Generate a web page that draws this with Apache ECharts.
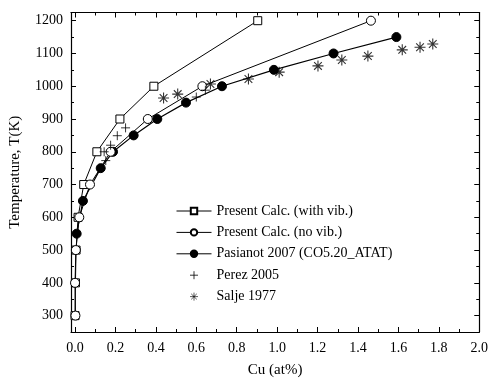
<!DOCTYPE html>
<html>
<head>
<meta charset="utf-8">
<script src="https://cdn.jsdelivr.net/npm/echarts@6/dist/echarts.min.js"></script>
<style>html,body{margin:0;padding:0;background:#fff;}#c{width:491px;height:383px;}</style>
</head>
<body>
<div id="c"></div>
<script>
// ---- data ----
const withVibCu = [0.0, 0.002, 0.005, 0.015, 0.043, 0.108, 0.222, 0.39, 0.904];
const withVibT  = [300, 400, 500, 600, 700, 800, 900, 1000, 1200];
const noVibCu   = [0.002, 0.0, 0.004, 0.021, 0.074, 0.176, 0.36, 0.63, 1.464];
const noVibT    = [300, 400, 500, 600, 700, 800, 900, 1000, 1200];
const pasCu     = [0.008, 0.039, 0.127, 0.188, 0.29, 0.407, 0.549, 0.727, 0.984, 1.279, 1.59];
const pasT      = [550, 650, 750, 800, 850, 900, 950, 1000, 1050, 1100, 1150];
const perezCu   = [0.152, 0.144, 0.176, 0.209, 0.25, 0.60, 0.645];
const perezT    = [773, 800, 820, 849, 873, 967, 988];
const saljeCu   = [0.438, 0.508, 0.67, 0.858, 1.01, 1.202, 1.32, 1.449, 1.619, 1.707, 1.77];
const saljeT    = [964, 976, 1007, 1022, 1043, 1062, 1080, 1092, 1111, 1119, 1129];
const xMajor = [0, 0.2, 0.4, 0.6, 0.8, 1.0, 1.2, 1.4, 1.6, 1.8, 2.0];
const xMinor = [0.1, 0.3, 0.5, 0.7, 0.9, 1.1, 1.3, 1.5, 1.7, 1.9];
const yMajor = [300, 400, 500, 600, 700, 800, 900, 1000, 1100, 1200];
const yMinor = [250, 350, 450, 550, 650, 750, 850, 950, 1050, 1150];
const names = ['Present Calc. (with vib.)', 'Present Calc. (no vib.)', 'Pasianot 2007 (CO5.20_ATAT)', 'Perez 2005', 'Salje 1977'];

const zip = (a, b) => a.map((v, i) => [v, b[i]]);
const FONT = 'Liberation Serif';
const PLUS = 'path://M5 0 L5 10 M0 5 L10 5';
const STAR = 'path://M5 0 L5 10 M0 5 L10 5 M1.5 1.5 L8.5 8.5 M8.5 1.5 L1.5 8.5';

function xAx(pos, ticks, len, labels, line) {
  return {
    type: 'value', min: -0.02, max: 2.0, position: pos,
    axisLine: { show: line, onZero: false, lineStyle: { color: '#000', width: 1.2 } },
    axisTick: { show: true, inside: true, length: len, customValues: ticks, lineStyle: { color: '#000', width: 1 } },
    axisLabel: labels ? { show: true, customValues: ticks, formatter: v => v.toFixed(1), fontFamily: FONT, fontSize: 14, color: '#000', margin: 9 } : { show: false },
    splitLine: { show: false },
    name: labels ? 'Cu (at%)' : '', nameLocation: 'middle', nameGap: 31,
    nameTextStyle: { fontFamily: FONT, fontSize: 15, color: '#000' }
  };
}
function yAx(pos, ticks, len, labels, line) {
  return {
    type: 'value', min: 250, max: 1225, position: pos,
    axisLine: { show: line, onZero: false, lineStyle: { color: '#000', width: 1.2 } },
    axisTick: { show: true, inside: true, length: len, customValues: ticks, lineStyle: { color: '#000', width: 1 } },
    axisLabel: labels ? { show: true, customValues: ticks, formatter: v => String(v), fontFamily: FONT, fontSize: 14, color: '#000', margin: 8 } : { show: false },
    splitLine: { show: false },
    name: labels ? 'Temperature, T(K)' : '', nameLocation: 'middle', nameGap: 48,
    nameTextStyle: { fontFamily: FONT, fontSize: 15, color: '#000' }
  };
}

const chart = echarts.init(document.getElementById('c'), null, { renderer: 'canvas' });
chart.setOption({
  animation: false,
  backgroundColor: '#fff',
  grid: { left: 70.3, right: 9.3, top: 12.5, bottom: 47.3, containLabel: false },
  xAxis: [
    xAx('bottom', xMajor, 5, true, true),
    xAx('bottom', xMinor, 3, false, false),
    xAx('top', xMajor, 5, false, true),
    xAx('top', xMinor, 3, false, false)
  ],
  yAxis: [
    yAx('left', yMajor, 5, true, true),
    yAx('left', yMinor, 3, false, false),
    yAx('right', yMajor, 5, false, true),
    yAx('right', yMinor, 3, false, false)
  ],
  legend: {
    orient: 'vertical', left: 171, top: 199,
    itemWidth: 35, itemHeight: 8, itemGap: 7.4,
    lineStyle: { width: 1 },
    textStyle: { fontFamily: FONT, fontSize: 14, color: '#000' },
    data: [
      names[0], names[1], names[2],
      { name: names[3], icon: PLUS, itemStyle: { color: 'transparent', borderColor: '#000', borderWidth: 1 } },
      { name: names[4], icon: STAR, itemStyle: { color: 'transparent', borderColor: '#000', borderWidth: 0.8 } }
    ]
  },
  series: [
    { name: names[0], type: 'line', z: 3, data: zip(withVibCu, withVibT),
      symbol: 'rect', symbolSize: 8, showAllSymbol: true,
      itemStyle: { color: '#fff', borderColor: '#000', borderWidth: 1 },
      lineStyle: { color: '#000', width: 1 } },
    { name: names[1], type: 'line', z: 4, data: zip(noVibCu, noVibT),
      symbol: 'circle', symbolSize: 9, showAllSymbol: true,
      itemStyle: { color: '#fff', borderColor: '#000', borderWidth: 1 },
      lineStyle: { color: '#000', width: 1 } },
    { name: names[2], type: 'line', z: 2, data: zip(pasCu, pasT),
      symbol: 'circle', symbolSize: 9, showAllSymbol: true,
      itemStyle: { color: '#000', borderColor: '#000', borderWidth: 1 },
      lineStyle: { color: '#000', width: 1.2 } },
    { name: names[3], type: 'scatter', z: 5, data: zip(perezCu, perezT),
      symbol: PLUS, symbolSize: 9,
      itemStyle: { color: 'transparent', borderColor: '#000', borderWidth: 1 } },
    { name: names[4], type: 'scatter', z: 5, data: zip(saljeCu, saljeT),
      symbol: STAR, symbolSize: 11,
      itemStyle: { color: 'transparent', borderColor: '#000', borderWidth: 1.1 } }
  ]
});
</script>
</body>
</html>
